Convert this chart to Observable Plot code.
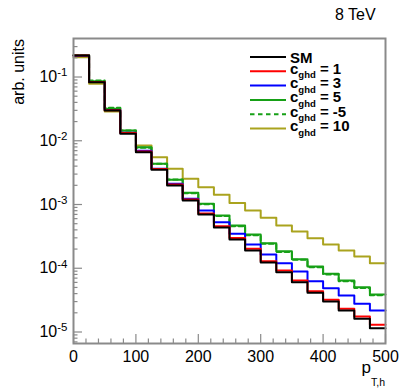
<!DOCTYPE html>
<html>
<head>
<meta charset="utf-8">
<script src="https://cdn.jsdelivr.net/npm/d3@7"></script>
<script src="https://cdn.jsdelivr.net/npm/@observablehq/plot@0.6"></script>
<style>
  html, body { margin: 0; padding: 0; background: #fff; }
  svg { display: block; }
</style>
</head>
<body>
<div id="chart"></div>
<script>
// ---- data (pT,h bin edges in GeV and normalised bin contents) ----
const edges = [0, 25, 50, 75, 100, 125, 150, 175, 200, 225, 250, 275, 300, 325, 350, 375, 400, 425, 450, 475, 500];
const sm   = [0.2175, 0.0829, 0.0298, 0.01285, 0.00661, 0.0035, 0.00199, 0.001155, 0.000697, 0.000436, 0.000282, 0.00019, 0.000123, 8.67e-5, 6.04e-5, 4.12e-5, 3.01e-5, 2.17e-5, 1.61e-5, 1.147e-5];
const c1   = [0.2175, 0.0835, 0.0300, 0.0132, 0.00678, 0.0036, 0.00206, 0.001198, 0.000722, 0.000457, 0.000298, 0.000202, 0.000129, 9.22e-5, 6.42e-5, 4.37e-5, 3.20e-5, 2.31e-5, 1.75e-5, 1.297e-5];
const c3   = [0.216, 0.0835, 0.0303, 0.0133, 0.0070, 0.00363, 0.00211, 0.001229, 0.000805, 0.000528, 0.000347, 0.000236, 0.000164, 0.00012, 8.89e-5, 6.26e-5, 4.87e-5, 3.74e-5, 2.77e-5, 2.17e-5];
const c5   = [0.2198, 0.0859, 0.0317, 0.0145, 0.00792, 0.00435, 0.00244, 0.001526, 0.001026, 0.000672, 0.000468, 0.000338, 0.000247, 0.000185, 0.000139, 0.0001065, 8.18e-5, 6.42e-5, 5.04e-5, 3.88e-5];
const cm5  = [0.2198, 0.0882, 0.0329, 0.0145, 0.00775, 0.00435, 0.00247, 0.00150, 0.00101, 0.00066, 0.000458, 0.00033, 0.000242, 0.00018, 0.000136, 0.000104, 8.0e-5, 6.25e-5, 4.9e-5, 3.78e-5];
const c10  = [0.2045, 0.0782, 0.0288, 0.0135, 0.00842, 0.00552, 0.00363, 0.00253, 0.00187, 0.00142, 0.00106, 0.000805, 0.000619, 0.000468, 0.000377, 0.000296, 0.000236, 0.00019, 0.000153, 0.00012];

const seriesNames  = ["SM", "1", "3", "5", "-5", "10"];
const xMajorTicks  = [0, 100, 200, 300, 400, 500];
const xMinorTicks  = [20, 40, 60, 80, 120, 140, 160, 180, 220, 240, 260, 280, 320, 340, 360, 380, 420, 440, 460, 480];
const yMajorTicks  = [1e-5, 1e-4, 1e-3, 1e-2, 1e-1];
const yMinorTicks  = [7e-6, 8e-6, 9e-6,
  2e-5, 3e-5, 4e-5, 5e-5, 6e-5, 7e-5, 8e-5, 9e-5,
  2e-4, 3e-4, 4e-4, 5e-4, 6e-4, 7e-4, 8e-4, 9e-4,
  2e-3, 3e-3, 4e-3, 5e-3, 6e-3, 7e-3, 8e-3, 9e-3,
  2e-2, 3e-2, 4e-2, 5e-2, 6e-2, 7e-2, 8e-2, 9e-2,
  0.2, 0.3];

// ---- build step tables ----
function steps(vals) {
  return edges.map((x, i) => ({x, v: vals[Math.min(i, vals.length - 1)]}));
}
const styles = {
  "SM": {data: sm,  color: "#000000", dash: null},
  "1":  {data: c1,  color: "#ff0000", dash: null},
  "3":  {data: c3,  color: "#0000ff", dash: null},
  "5":  {data: c5,  color: "#16a016", dash: null},
  "-5": {data: cm5, color: "#16a016", dash: "4.5,3.5"},
  "10": {data: c10, color: "#aaa31e", dash: null}
};
const drawOrder = ["10", "5", "-5", "3", "1", "SM"];

const gray = "#8a8a8a";
const font = "'Liberation Sans', Arial, Helvetica, sans-serif";

const plot = Plot.plot({
  width: 405,
  height: 391,
  marginLeft: 73,
  marginRight: 20,
  marginTop: 38,
  marginBottom: 48,
  style: {fontFamily: font, background: "#fff", color: "#000"},
  x: {domain: [0, 500]},
  y: {type: "log", domain: [6.6e-6, 0.402]},
  marks: [
    ...drawOrder.map(k => Plot.line(steps(styles[k].data), {
      x: "x", y: "v", curve: "step-after",
      stroke: styles[k].color, strokeWidth: 2,
      strokeDasharray: styles[k].dash
    })),
    // x ticks (inside)
    Plot.axisX(xMinorTicks, {tickSize: 4.5, dy: -4.5, fill: "none", stroke: gray, strokeWidth: 1.2, label: null}),
    Plot.axisX(xMajorTicks, {tickSize: 9, dy: -9, fill: "none", stroke: gray, strokeWidth: 1.2, label: null}),
    Plot.axisX(xMajorTicks, {tickSize: 0, tickPadding: 7, stroke: "none", fill: "#000", fontSize: 16, label: null, tickFormat: d => String(d)}),
    // y ticks (inside)
    Plot.axisY(yMinorTicks, {tickSize: 4.5, dx: 4.5, fill: "none", stroke: gray, strokeWidth: 1.2, label: null}),
    Plot.axisY(yMajorTicks, {tickSize: 9, dx: 9, fill: "none", stroke: gray, strokeWidth: 1.2, label: null}),
    Plot.axisY(yMajorTicks, {tickSize: 0, tickPadding: 6, stroke: "none", fill: "#000", fontSize: 16, label: null,
      tickFormat: d => "10^" + Math.round(Math.log10(d))}),
    Plot.frame({stroke: gray, strokeWidth: 2})
  ]
});

const svg = d3.select(plot);

// superscripts on y tick labels
svg.selectAll('g[aria-label="y-axis tick label"] text').each(function () {
  const t = d3.select(this);
  const s = t.text();
  const parts = s.split("^");
  t.text(parts[0]);
  t.append("tspan").attr("dy", "-0.5em").attr("font-size", 11.5).text(parts[1]);
});

// axis titles and annotation
svg.append("text")
  .attr("transform", "translate(24,39) rotate(-90)")
  .attr("text-anchor", "end")
  .attr("font-family", font).attr("font-size", 16)
  .text("arb. units");

const xt = svg.append("text")
  .attr("x", 385).attr("y", 373)
  .attr("text-anchor", "end")
  .attr("font-family", font).attr("font-size", 17);
xt.append("tspan").text("p");
xt.append("tspan").attr("dy", 12.5).attr("font-size", 10.5).text("T,h");

svg.append("text")
  .attr("x", 335).attr("y", 19.5)
  .attr("text-anchor", "start")
  .attr("font-family", font).attr("font-size", 16)
  .text("8 TeV");

// legend
const legendOrder = ["SM", "1", "3", "5", "-5", "10"];
const lg = svg.append("g").attr("font-family", font).attr("font-weight", "bold").attr("text-anchor", "start");
legendOrder.forEach((k, i) => {
  const y = 57 + i * 14.3;
  lg.append("line")
    .attr("x1", 250).attr("x2", 286).attr("y1", y).attr("y2", y)
    .attr("stroke", styles[k].color).attr("stroke-width", 2)
    .attr("stroke-dasharray", styles[k].dash);
  if (k === "SM") {
    lg.append("text").attr("x", 290).attr("y", y + 5.5).attr("font-size", 15).attr("text-anchor", "start").text("SM");
  } else {
    const t = lg.append("text").attr("x", 290).attr("y", y + 2.5).attr("font-size", 15).attr("text-anchor", "start");
    t.append("tspan").text("c");
    t.append("tspan").attr("dy", 4.5).attr("font-size", 9.5).text("ghd");
    t.append("tspan").attr("dy", -4.5).text(" = " + k);
  }
});

document.getElementById("chart").appendChild(plot);
</script>
</body>
</html>
